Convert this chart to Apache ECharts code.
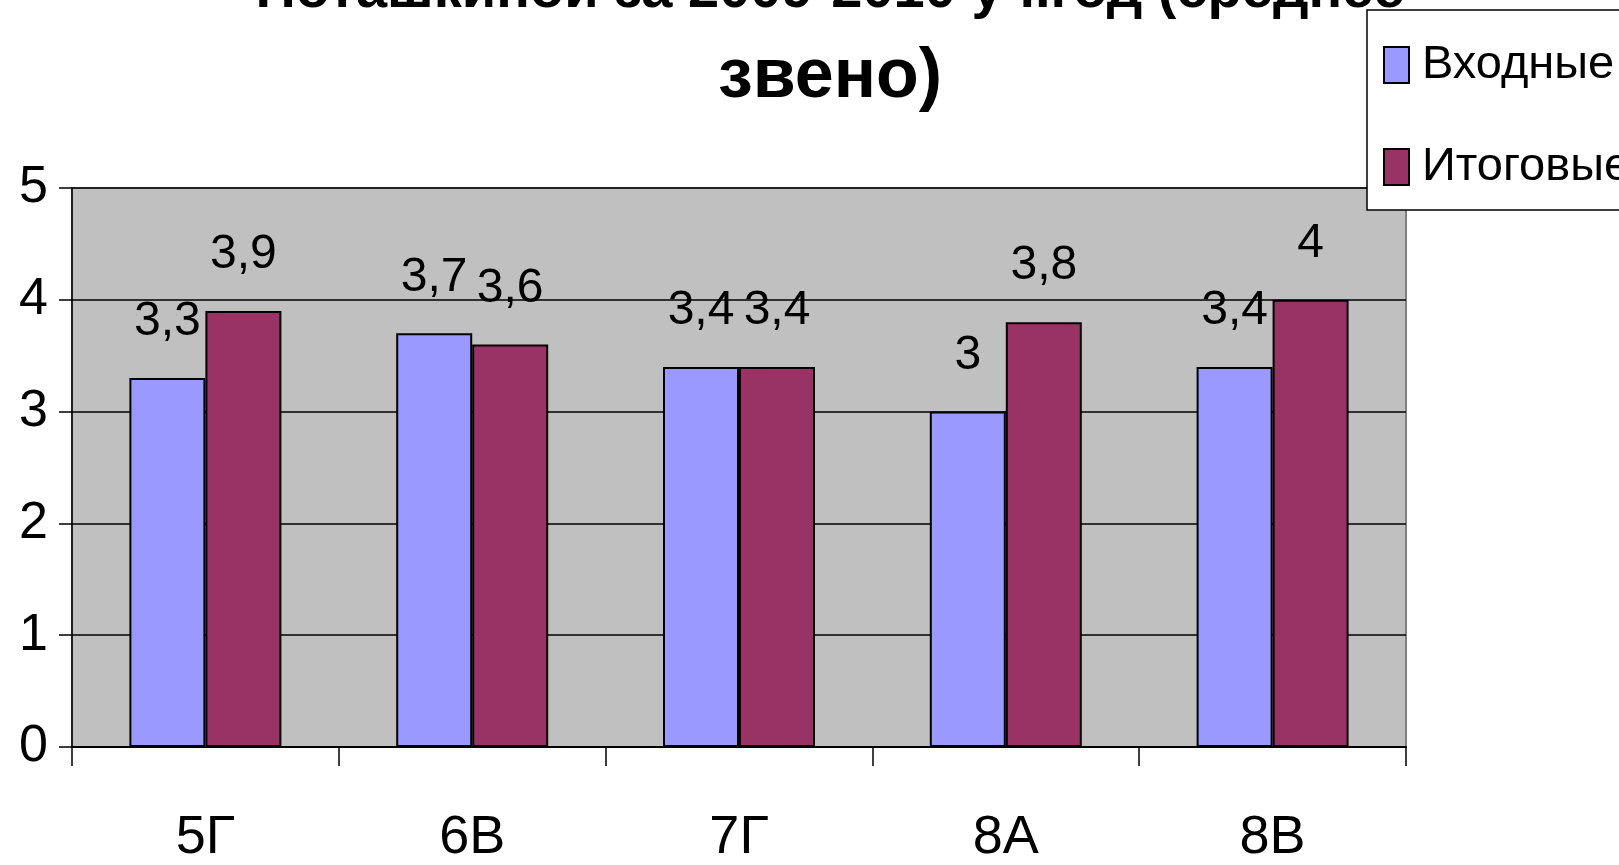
<!DOCTYPE html>
<html>
<head>
<meta charset="utf-8">
<script src="https://cdn.jsdelivr.net/npm/echarts@6/dist/echarts.min.js"></script>
<style>
html,body{margin:0;padding:0;background:#fff;}
#chart{width:1619px;height:865px;}
</style>
</head>
<body>
<div id="chart"></div>
<script>
const titleLine1 = 'Поташкиной за 2009-2010 уч.год (среднее';
const titleLine2 = 'звено)';
const categories = ['5Г', '6В', '7Г', '8А', '8В'];
const seriesNames = ['Входные', 'Итоговые'];
const inputScores = [3.3, 3.7, 3.4, 3, 3.4];
const finalScores = [3.9, 3.6, 3.4, 3.8, 4];
const yTicks = [0, 1, 2, 3, 4, 5];

const FONT = "'Liberation Sans', Arial, sans-serif";
const chart = echarts.init(document.getElementById('chart'));
const fmt = p => String(p.value).replace('.', ',');

chart.setOption({
  backgroundColor: '#ffffff',
  animation: false,
  title: [
    {
      text: titleLine1,
      left: 830, top: -36, padding: 0,
      textAlign: 'center',
      textStyle: { fontFamily: FONT, fontWeight: 'bold', fontSize: 56, lineHeight: 56, color: '#000' }
    },
    {
      text: titleLine2,
      left: 830, top: 38, padding: 0,
      textAlign: 'center',
      textStyle: { fontFamily: FONT, fontWeight: 'bold', fontSize: 70, lineHeight: 80, color: '#000' }
    }
  ],
  legend: {
    orient: 'vertical',
    left: 1367, top: 10,
    padding: [27, 40, 15, 16],
    itemGap: 46,
    itemWidth: 25, itemHeight: 36,
    icon: 'rect',
    backgroundColor: '#fff',
    borderColor: '#000', borderWidth: 1.5,
    textStyle: { fontFamily: FONT, fontSize: 47, lineHeight: 56, color: '#000', padding: [0, 0, 0, 8] },
    data: seriesNames
  },
  grid: {
    left: 72, right: 213, top: 188, bottom: 118,
    containLabel: false,
    outerBoundsMode: 'none',
    show: true, backgroundColor: '#c0c0c0', borderColor: '#808080', borderWidth: 2
  },
  xAxis: {
    type: 'category',
    data: categories,
    axisLine: { show: true, lineStyle: { color: '#000', width: 2 } },
    axisTick: { show: true, length: 19, interval: 0, lineStyle: { color: '#000', width: 1.5 } },
    axisLabel: { fontFamily: FONT, fontSize: 54, lineHeight: 54, color: '#000', margin: 64 },
    splitLine: { show: false }
  },
  yAxis: {
    type: 'value',
    min: yTicks[0], max: yTicks[yTicks.length - 1], interval: 1,
    axisLine: { show: true, lineStyle: { color: '#000', width: 1.5 } },
    axisTick: { show: true, length: 13, lineStyle: { color: '#000', width: 1.5 } },
    axisLabel: { fontFamily: FONT, fontSize: 52, color: '#000', margin: 24 },
    splitLine: { show: true, lineStyle: { color: '#000', width: 1.5 } }
  },
  series: [
    {
      name: seriesNames[0], type: 'bar', data: inputScores,
      barWidth: 76, barGap: '0%',
      itemStyle: { color: '#9999ff', borderColor: '#000', borderWidth: 2 },
      label: { show: true, position: 'top', distance: 32, fontFamily: FONT, fontSize: 48, color: '#000', formatter: fmt }
    },
    {
      name: seriesNames[1], type: 'bar', data: finalScores,
      barWidth: 76, barGap: '0%',
      itemStyle: { color: '#993366', borderColor: '#000', borderWidth: 2 },
      label: { show: true, position: 'top', distance: 32, fontFamily: FONT, fontSize: 48, color: '#000', formatter: fmt }
    }
  ]
});
</script>
</body>
</html>
